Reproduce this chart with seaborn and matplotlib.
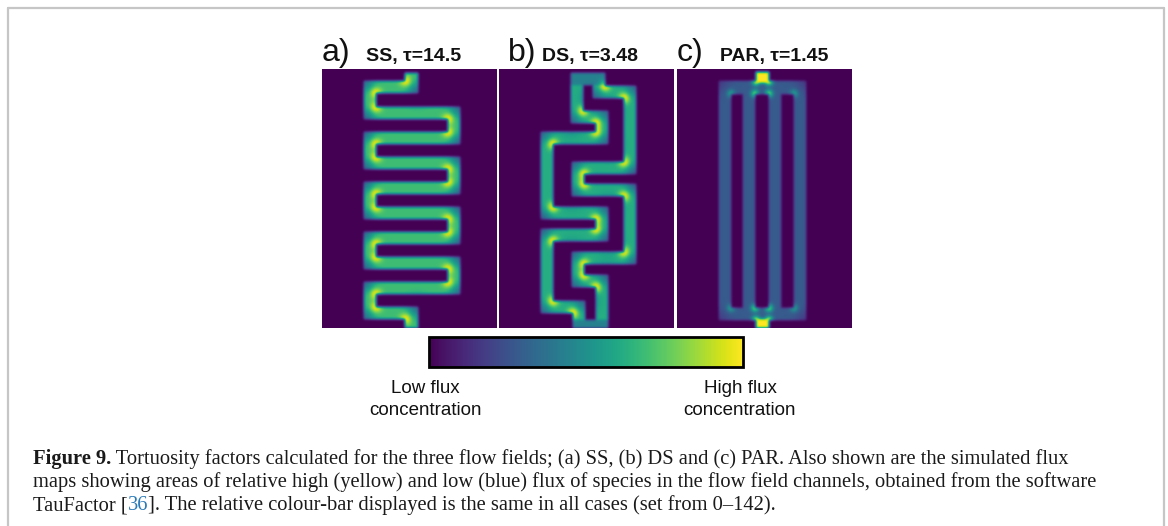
import numpy as np
import matplotlib
matplotlib.use("Agg")
import matplotlib.pyplot as plt
import seaborn as sns
from matplotlib.lines import Line2D
from matplotlib.cm import ScalarMappable
from matplotlib.colors import Normalize

sns.set_theme(style="white")
plt.rcParams["font.family"] = ["Liberation Sans", "DejaVu Sans"]

# ---------------------------------------------------------------- data
FLUX_MIN, FLUX_MAX = 0, 142
GRID_W, GRID_H = 175, 259          # simulation cells per map (x, y)

PANEL_LETTERS = ["a)", "b)", "c)"]
PANEL_NAMES = ["SS", "DS", "PAR"]
TORTUOSITY = ["14.5", "3.48", "1.45"]

# channel centre-lines (cell units, y downwards)
SS_PATHS = [
    [(89.5, 10), (89.5, 18), (48, 18), (48, 44), (132, 44), (132, 69),
     (48, 69), (48, 94), (132, 94), (132, 119), (48, 119), (48, 144),
     (132, 144), (132, 169), (48, 169), (48, 194), (132, 194), (132, 219),
     (48, 219), (48, 244), (89.5, 244), (89.5, 259)],
]
DS_PATHS = [
    [(100, 10), (100, 23), (131, 23), (131, 99), (79, 99), (79, 121),
     (131, 121), (131, 189), (79, 189), (79, 212), (103, 212), (103, 259)],
    [(78, 10), (78, 48), (103, 48), (103, 69), (48, 69), (48, 144),
     (103, 144), (103, 166), (48, 166), (48, 238), (80, 238), (80, 259)],
]
PAR_PATHS = [
    [(48, 18.5), (123, 18.5), (123, 245), (48, 245), (48, 18.5), (123, 18.5)],
    [(72, 18.5), (72, 245)],
    [(98, 18.5), (98, 245)],
]

# manifold blocks: x0, x1, y0, y1, flux
SS_BLOCKS = []
DS_BLOCKS = [(72, 106, 4, 16, 62), (74, 109, 251, 259, 62)]
PAR_BLOCKS = [(79, 92, 3, 14, 142), (79, 92, 250, 259, 142)]

# additional flux peaks: x, y, flux
SS_PEAKS = []
DS_PEAKS = []
PAR_PEAKS = [(79, 12.5, 142), (92, 12.5, 142), (79, 251, 142), (92, 251, 142),
             (78, 24.5, 120), (92, 24.5, 120), (78, 239, 120), (92, 239, 120)]

CHANNEL_FLUX = [98, 88, 40]      # flux along straight runs
CORNER_FLUX = [150, 150, 85]     # flux at inner corners of bends
CORNER_LOSS = [0.45, 0.42, 0.35] # relative drop at outer corners


# ---------------------------------------------------------------- helpers
def smooth(a, sigma):
    r = int(3 * sigma) + 1
    k = np.exp(-0.5 * (np.arange(-r, r + 1) / sigma) ** 2)
    k /= k.sum()
    a = np.apply_along_axis(lambda v: np.convolve(v, k, mode="same"), 0, a)
    a = np.apply_along_axis(lambda v: np.convolve(v, k, mode="same"), 1, a)
    return a


def bend_corners(path, half):
    inner, outer = [], []
    pts = np.asarray(path, float)
    for i in range(1, len(pts) - 1):
        d_in = np.sign(pts[i] - pts[i - 1])
        d_out = np.sign(pts[i + 1] - pts[i])
        if np.array_equal(d_in, d_out):
            continue
        inner.append(pts[i] + half * (d_out - d_in))
        outer.append(pts[i] + half * (d_in - d_out))
    return inner, outer


def flux_map(paths, blocks, peaks, base, corner, loss, half=6.0,
             hot_sigma=3.8, cold_sigma=7.0, blur=1.3):
    yy, xx = np.mgrid[0:GRID_H, 0:GRID_W] + 0.5
    inside = np.zeros((GRID_H, GRID_W), bool)
    for path in paths:
        for (xa, ya), (xb, yb) in zip(path[:-1], path[1:]):
            inside |= ((xx >= min(xa, xb) - half) & (xx <= max(xa, xb) + half)
                       & (yy >= min(ya, yb) - half) & (yy <= max(ya, yb) + half))
    field = np.where(inside, float(base), 0.0)
    for x0, x1, y0, y1, v in blocks:
        blk = (xx >= x0) & (xx < x1) & (yy >= y0) & (yy < y1)
        field[blk] = v
        inside |= blk
    inner, outer = [], []
    for path in paths:
        i, o = bend_corners(path, half)
        inner += i
        outer += o
    for cx, cy in outer:
        field *= 1 - loss * np.exp(-((xx - cx) ** 2 + (yy - cy) ** 2) / (2 * cold_sigma ** 2))
    hot = [(cx, cy, corner) for cx, cy in inner] + list(peaks)
    for cx, cy, pk in hot:
        field += (pk - base) * np.exp(-((xx - cx) ** 2 + (yy - cy) ** 2) / (2 * hot_sigma ** 2))
    field = np.where(inside, np.clip(field, FLUX_MIN, FLUX_MAX), 0.0)
    return np.clip(smooth(field, blur), FLUX_MIN, FLUX_MAX)


maps = [
    flux_map(SS_PATHS, SS_BLOCKS, SS_PEAKS, CHANNEL_FLUX[0], CORNER_FLUX[0], CORNER_LOSS[0]),
    flux_map(DS_PATHS, DS_BLOCKS, DS_PEAKS, CHANNEL_FLUX[1], CORNER_FLUX[1], CORNER_LOSS[1]),
    flux_map(PAR_PATHS, PAR_BLOCKS, PAR_PEAKS, CHANNEL_FLUX[2], CORNER_FLUX[2], CORNER_LOSS[2],
             hot_sigma=2.6),
]

# ---------------------------------------------------------------- figure
FIG_W, FIG_H = 1168, 526
fig = plt.figure(figsize=(FIG_W / 100, FIG_H / 100), dpi=100)
fig.patch.set_facecolor("white")


def box(x, y, w, h):
    return [x / FIG_W, 1 - (y + h) / FIG_H, w / FIG_W, h / FIG_H]


def fx(x):
    return x / FIG_W


def fy(y):
    return 1 - y / FIG_H


# frame around the figure block
frame_kw = dict(transform=fig.transFigure, color="#c6c6c6", lw=1.6)
fig.add_artist(Line2D([fx(8), fx(8)], [fy(8), fy(526)], **frame_kw))
fig.add_artist(Line2D([fx(8), fx(1164)], [fy(8), fy(8)], **frame_kw))
fig.add_artist(Line2D([fx(1164), fx(1164)], [fy(8), fy(526)], **frame_kw))

panel_left = [322, 499, 677]
letter_x = [322, 508, 677]
name_x = [366, 542, 720]
for k in range(3):
    ax = fig.add_axes(box(panel_left[k], 69, 175, 259))
    sns.heatmap(maps[k], ax=ax, cmap="viridis", vmin=FLUX_MIN, vmax=FLUX_MAX,
                cbar=False, xticklabels=False, yticklabels=False)
    ax.set_xlabel("")
    ax.set_ylabel("")
    fig.text(fx(letter_x[k]), fy(61), PANEL_LETTERS[k], fontsize=23,
             ha="left", va="baseline", color="#111111")
    fig.text(fx(name_x[k]), fy(61), f"{PANEL_NAMES[k]}, τ={TORTUOSITY[k]}",
             fontsize=14, fontweight="bold", ha="left", va="baseline", color="#111111")

# shared colour scale
cax = fig.add_axes(box(429, 337, 314, 30))
cb = fig.colorbar(ScalarMappable(Normalize(FLUX_MIN, FLUX_MAX), cmap="viridis"),
                  cax=cax, orientation="horizontal")
cb.set_ticks([])
cb.outline.set_linewidth(2)
cb.outline.set_edgecolor("black")

for cx, line1 in [(425, "Low flux"), (740, "High flux")]:
    fig.text(fx(cx), fy(393), line1, fontsize=13.5, ha="center", va="baseline", color="#111111")
    fig.text(fx(cx), fy(415), "concentration", fontsize=13.5, ha="center", va="baseline",
             color="#111111")

# caption
serif = ["Liberation Serif", "DejaVu Serif"]
cap_kw = dict(fontsize=14.8, family=serif, color="#1a1a1a")
caption = [
    [("Figure 9.", dict(fontweight="bold")),
     (" Tortuosity factors calculated for the three flow fields; (a) SS, (b) DS and (c) PAR. "
      "Also shown are the simulated flux", {})],
    [("maps showing areas of relative high (yellow) and low (blue) flux of species in the flow "
      "field channels, obtained from the software", {})],
    [("TauFactor [", {}), ("36", dict(color="#2a7ab8")),
     ("]. The relative colour-bar displayed is the same in all cases (set from 0–142).", {})],
]
renderer = fig.canvas.get_renderer()
for line, yb in zip(caption, [464, 487, 510]):
    x = 33
    for text, extra in line:
        kw = dict(cap_kw)
        kw.update(extra)
        t = fig.text(fx(x), fy(yb), text, ha="left", va="baseline", **kw)
        x = t.get_window_extent(renderer).x1

fig.savefig("out.png", dpi=100, facecolor="white")
